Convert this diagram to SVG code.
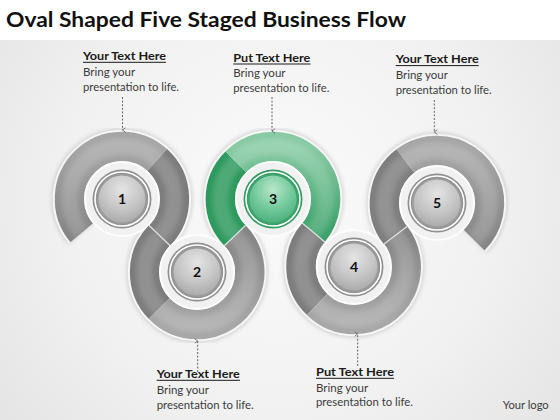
<svg xmlns="http://www.w3.org/2000/svg" width="560" height="420" viewBox="0 0 560 420">
<defs>
<radialGradient id="bg" cx="280" cy="200" r="360" gradientUnits="userSpaceOnUse">
<stop offset="0" stop-color="#fbfbfb"/><stop offset="0.6" stop-color="#f1f1f1"/><stop offset="1" stop-color="#e4e4e4"/>
</radialGradient>
<linearGradient id="gTop" x1="0" y1="0" x2="0" y2="1"><stop offset="0" stop-color="#a6a6a6"/><stop offset="1" stop-color="#858585"/></linearGradient>
<linearGradient id="gBot" x1="0" y1="0" x2="0" y2="1"><stop offset="0" stop-color="#848484"/><stop offset="1" stop-color="#a7a7a7"/></linearGradient>
<linearGradient id="gGreen" x1="0" y1="0" x2="0" y2="1"><stop offset="0" stop-color="#88caa4"/><stop offset="1" stop-color="#3aa169"/></linearGradient>
<radialGradient id="sph" cx="0.5" cy="0.3" r="0.75"><stop offset="0" stop-color="#e4e4e4"/><stop offset="0.55" stop-color="#c6c6c6"/><stop offset="1" stop-color="#a6a6a6"/></radialGradient>
<radialGradient id="sphG" cx="0.5" cy="0.3" r="0.75"><stop offset="0" stop-color="#b9e7cc"/><stop offset="0.55" stop-color="#72c99b"/><stop offset="1" stop-color="#48ad79"/></radialGradient>
<filter id="blur" x="-10%" y="-10%" width="120%" height="120%"><feGaussianBlur stdDeviation="2"/></filter>
<filter id="soft" x="-10%" y="-10%" width="120%" height="120%"><feGaussianBlur stdDeviation="2.5"/></filter>
<marker id="ah" viewBox="0 0 8 8" refX="4" refY="7" markerWidth="6" markerHeight="6" orient="auto-start-reverse" markerUnits="userSpaceOnUse">
<path d="M1,3 L4,7 L7,3" fill="none" stroke="#555" stroke-width="1"/>
</marker>
</defs>
<style>
.t{font-family:Lato,"Liberation Sans",sans-serif;}
.title{font-size:21px;font-weight:bold;fill:#111;}
.h{font-size:11.5px;font-weight:bold;fill:#1a1a1a;}
.b{font-size:11.5px;fill:#3c3c3c;}
.ul{stroke:#1a1a1a;stroke-width:1;}
.ring{fill:none;stroke-width:29.5;}
.hl1{fill:none;stroke:#fff;stroke-opacity:0.16;stroke-width:16;filter:url(#soft);}
.disc{fill:#f1f1f1;stroke:#fdfdfd;stroke-width:2;}
.bo{fill:#8f8f8f;}
.bw{fill:none;stroke:#fff;stroke-width:1.6;}
.bi{fill:#999;}
.num{font-family:Lato,"Liberation Sans",sans-serif;font-size:14px;font-weight:bold;fill:#111;text-anchor:middle;}
.conn{fill:none;stroke:#555;stroke-width:0.9;stroke-dasharray:2 1.6;}
</style>
<rect x="0" y="0" width="560" height="420" fill="#fff"/>
<rect x="0" y="40" width="560" height="380" fill="url(#bg)"/>
<text class="t title" x="6" y="27" textLength="400" lengthAdjust="spacingAndGlyphs">Oval Shaped Five Staged Business Flow</text>

<g id="ring-base">
<path d="M81.78,232.75 A52.5,52.5 0 0 1 157.13,159.99 A52.5,52.5 0 0 1 159.5,235.5 A52.5,52.5 0 0 0 159.24,308.47 A52.5,52.5 0 0 0 197,324.5 A52.5,52.5 0 0 0 235,235.5 A52.5,52.5 0 0 1 235.88,161.88 A52.5,52.5 0 0 1 273,146.5 A52.5,52.5 0 0 1 313.5,232.5 A52.5,52.5 0 0 0 317.2,304.45 A52.5,52.5 0 0 0 354,319.5 A52.5,52.5 0 0 0 395.5,235.25 A52.5,52.5 0 0 1 405.4,161.07 A52.5,52.5 0 0 1 437,150.5 A52.5,52.5 0 0 1 474.12,240.12" fill="none" stroke="#b4b4b4" stroke-width="36" opacity="0.55" filter="url(#blur)"/>
<path d="M81.78,232.75 A52.5,52.5 0 0 1 157.13,159.99 A52.5,52.5 0 0 1 159.5,235.5 A52.5,52.5 0 0 0 159.24,308.47 A52.5,52.5 0 0 0 197,324.5 A52.5,52.5 0 0 0 235,235.5 A52.5,52.5 0 0 1 235.88,161.88 A52.5,52.5 0 0 1 273,146.5 A52.5,52.5 0 0 1 313.5,232.5 A52.5,52.5 0 0 0 317.2,304.45 A52.5,52.5 0 0 0 354,319.5 A52.5,52.5 0 0 0 395.5,235.25 A52.5,52.5 0 0 1 405.4,161.07 A52.5,52.5 0 0 1 437,150.5 A52.5,52.5 0 0 1 474.12,240.12" fill="none" stroke="#f6f6f6" stroke-width="33.5"/>
</g>

<g id="node1">
<path class="ring" stroke="url(#gTop)" d="M81.78,232.75 A52.5,52.5 0 0 1 157.13,159.99"/>
<path class="ring" stroke="#7c7c7c" d="M157.13,159.99 A52.5,52.5 0 0 1 159.5,235.5"/>
<path class="hl1" d="M81.78,232.75 A52.5,52.5 0 0 1 157.13,159.99 A52.5,52.5 0 0 1 159.5,235.5"/>
<circle class="disc" cx="122" cy="199" r="37"/>
<circle class="bo" cx="122" cy="199" r="29.5"/>
<circle class="bw" cx="122" cy="199" r="27"/>
<circle class="bi" cx="122" cy="199" r="25.5"/>
<circle fill="url(#sph)" cx="122" cy="199" r="23.5"/>
<text class="num" x="122" y="204">1</text>
</g>

<g id="node2">
<path class="ring" stroke="#7c7c7c" d="M159.5,235.5 A52.5,52.5 0 0 0 159.24,308.47"/>
<path class="ring" stroke="url(#gBot)" d="M159.24,308.47 A52.5,52.5 0 0 0 197,324.5 A52.5,52.5 0 0 0 235,235.5"/>
<path class="hl1" d="M159.5,235.5 A52.5,52.5 0 0 0 159.24,308.47 A52.5,52.5 0 0 0 197,324.5 A52.5,52.5 0 0 0 235,235.5"/>
<circle class="disc" cx="197" cy="272" r="37"/>
<circle class="bo" cx="197" cy="272" r="29.5"/>
<circle class="bw" cx="197" cy="272" r="27"/>
<circle class="bi" cx="197" cy="272" r="25.5"/>
<circle fill="url(#sph)" cx="197" cy="272" r="23.5"/>
<text class="num" x="197" y="277">2</text>
</g>

<g id="node3">
<path class="ring" stroke="#2c995c" d="M235,235.5 A52.5,52.5 0 0 1 235.88,161.88"/>
<path class="ring" stroke="url(#gGreen)" d="M235.88,161.88 A52.5,52.5 0 0 1 273,146.5 A52.5,52.5 0 0 1 313.5,232.5"/>
<path class="hl1" d="M235,235.5 A52.5,52.5 0 0 1 235.88,161.88 A52.5,52.5 0 0 1 273,146.5 A52.5,52.5 0 0 1 313.5,232.5"/>
<circle class="disc" cx="273" cy="199" r="37"/>
<circle fill="#2f9b5f" cx="273" cy="199" r="29.5"/>
<circle class="bw" cx="273" cy="199" r="27"/>
<circle fill="#3ea56c" cx="273" cy="199" r="25.5"/>
<circle fill="url(#sphG)" cx="273" cy="199" r="23.5"/>
<text class="num" x="273" y="204">3</text>
</g>

<g id="node4">
<path class="ring" stroke="#7c7c7c" d="M313.5,232.5 A52.5,52.5 0 0 0 317.2,304.45"/>
<path class="ring" stroke="url(#gBot)" d="M317.2,304.45 A52.5,52.5 0 0 0 354,319.5 A52.5,52.5 0 0 0 395.5,235.25"/>
<path class="hl1" d="M313.5,232.5 A52.5,52.5 0 0 0 317.2,304.45 A52.5,52.5 0 0 0 354,319.5 A52.5,52.5 0 0 0 395.5,235.25"/>
<circle class="disc" cx="354" cy="267" r="37"/>
<circle class="bo" cx="354" cy="267" r="29.5"/>
<circle class="bw" cx="354" cy="267" r="27"/>
<circle class="bi" cx="354" cy="267" r="25.5"/>
<circle fill="url(#sph)" cx="354" cy="267" r="23.5"/>
<text class="num" x="354" y="272">4</text>
</g>

<g id="node5">
<path class="ring" stroke="#7e7e7e" d="M395.5,235.25 A52.5,52.5 0 0 1 405.4,161.07"/>
<path class="ring" stroke="url(#gTop)" d="M405.4,161.07 A52.5,52.5 0 0 1 437,150.5 A52.5,52.5 0 0 1 474.12,240.12"/>
<path class="hl1" d="M395.5,235.25 A52.5,52.5 0 0 1 405.4,161.07 A52.5,52.5 0 0 1 437,150.5 A52.5,52.5 0 0 1 474.12,240.12"/>
<circle class="disc" cx="437" cy="203" r="37"/>
<circle class="bo" cx="437" cy="203" r="29.5"/>
<circle class="bw" cx="437" cy="203" r="27"/>
<circle class="bi" cx="437" cy="203" r="25.5"/>
<circle fill="url(#sph)" cx="437" cy="203" r="23.5"/>
<text class="num" x="437" y="208">5</text>
</g>

<g id="joins" stroke="#e2e2e2" stroke-width="1.2">
<line x1="148.8" y1="225.2" x2="170.2" y2="245.8"/>
<line x1="224.3" y1="245.8" x2="245.7" y2="225.2"/>
<line x1="302.2" y1="223" x2="324.8" y2="242"/>
<line x1="384" y1="244" x2="407" y2="226.5"/>
</g>

<g id="connectors">
<line class="conn" x1="122.5" y1="97" x2="122.5" y2="130" marker-end="url(#ah)"/>
<line class="conn" x1="272" y1="97" x2="272" y2="131" marker-end="url(#ah)"/>
<line class="conn" x1="434.3" y1="100" x2="434.3" y2="132" marker-end="url(#ah)"/>
<line class="conn" x1="197.7" y1="372" x2="197.7" y2="341" marker-end="url(#ah)"/>
<line class="conn" x1="357.7" y1="366" x2="357.7" y2="334" marker-end="url(#ah)"/>
</g>

<g id="label1" class="t">
<text class="h" x="83" y="60" textLength="83" lengthAdjust="spacingAndGlyphs">Your Text Here</text>
<line class="ul" x1="83" y1="62.3" x2="166" y2="62.3"/>
<text class="b" x="83" y="76">Bring your</text>
<text class="b" x="83" y="90.7" textLength="96" lengthAdjust="spacingAndGlyphs">presentation to life.</text>
</g>
<g id="label3" class="t">
<text class="h" x="233.3" y="61.7" textLength="77" lengthAdjust="spacingAndGlyphs">Put Text Here</text>
<line class="ul" x1="233.3" y1="64" x2="310.5" y2="64"/>
<text class="b" x="233.3" y="77.3">Bring your</text>
<text class="b" x="233.3" y="92.3" textLength="96" lengthAdjust="spacingAndGlyphs">presentation to life.</text>
</g>
<g id="label5" class="t">
<text class="h" x="395.7" y="63.3" textLength="83" lengthAdjust="spacingAndGlyphs">Your Text Here</text>
<line class="ul" x1="395.7" y1="65.6" x2="478.7" y2="65.6"/>
<text class="b" x="395.7" y="79">Bring your</text>
<text class="b" x="395.7" y="94" textLength="96" lengthAdjust="spacingAndGlyphs">presentation to life.</text>
</g>
<g id="label2" class="t">
<text class="h" x="156.7" y="378" textLength="83" lengthAdjust="spacingAndGlyphs">Your Text Here</text>
<line class="ul" x1="156.7" y1="380.3" x2="240" y2="380.3"/>
<text class="b" x="156.7" y="394">Bring your</text>
<text class="b" x="156.7" y="409.3" textLength="97" lengthAdjust="spacingAndGlyphs">presentation to life.</text>
</g>
<g id="label4" class="t">
<text class="h" x="316" y="376" textLength="78" lengthAdjust="spacingAndGlyphs">Put Text Here</text>
<line class="ul" x1="316" y1="378.3" x2="394" y2="378.3"/>
<text class="b" x="316" y="391.7">Bring your</text>
<text class="b" x="316" y="406" textLength="97" lengthAdjust="spacingAndGlyphs">presentation to life.</text>
</g>
<text class="t b" x="502.7" y="409" textLength="46" lengthAdjust="spacingAndGlyphs">Your logo</text>
</svg>
